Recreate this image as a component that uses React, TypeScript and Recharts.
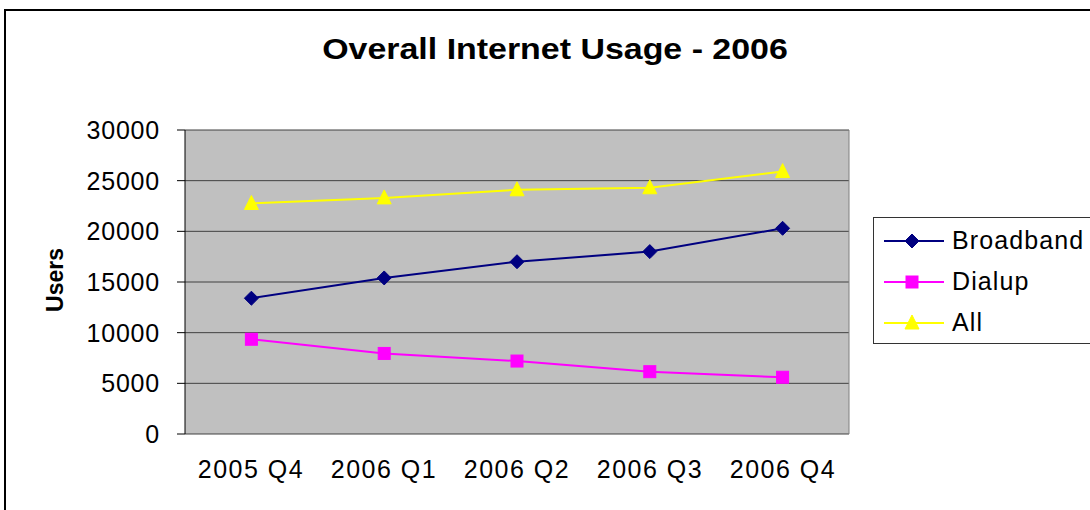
import { LineChart, Line, XAxis, YAxis, CartesianGrid, ReferenceLine } from 'recharts'

const QUARTERS = ['2005 Q4', '2006 Q1', '2006 Q2', '2006 Q3', '2006 Q4']
const BROADBAND = [13400, 15400, 17000, 18000, 20300]
const DIALUP = [9350, 7950, 7200, 6150, 5600]
const ALL = [22750, 23300, 24100, 24300, 25900]
const Y_TICKS = [0, 5000, 10000, 15000, 20000, 25000, 30000]
const X_BOUNDS = [0, 1, 2, 3, 4, 5]

const SERIES = [
  { key: 'Broadband', color: '#000080', shape: 'diamond' },
  { key: 'Dialup', color: '#FF00FF', shape: 'square' },
  { key: 'All', color: '#FFFF00', shape: 'triangle' },
]

const FONT = '"Liberation Sans", Arial, sans-serif'
const STRETCH = 1.17 // the source picture is a bit wider than tall

const data = QUARTERS.map((quarter, i) => ({
  quarter,
  pos: i + 0.5,
  Broadband: BROADBAND[i],
  Dialup: DIALUP[i],
  All: ALL[i],
}))

// marker drawn at (cx, cy)
function Marker({ cx, cy, shape, color }: { cx: number; cy: number; shape: string; color: string }) {
  if (shape === 'diamond') {
    return <polygon points={`${cx - 7},${cy} ${cx},${cy - 7} ${cx + 7},${cy} ${cx},${cy + 7}`} fill={color} stroke={color} />
  }
  if (shape === 'square') {
    return <rect x={cx - 6} y={cy - 6} width={12} height={12} fill={color} stroke={color} />
  }
  return <polygon points={`${cx},${cy - 8} ${cx - 7},${cy + 6} ${cx + 7},${cy + 6}`} fill={color} stroke={color} />
}

function LegendBox() {
  return (
    <svg width={260} height={128} style={{ position: 'absolute', left: 873, top: 217 }}>
      <rect x={0.5} y={0.5} width={259} height={126} fill="#fff" stroke="#333" />
      {SERIES.map((s, i) => {
        const y = 24 + i * 41
        return (
          <g key={s.key}>
            <line x1={11} x2={71} y1={y} y2={y} stroke={s.color} strokeWidth={2} />
            <Marker cx={39} cy={y} shape={s.shape} color={s.color} />
            <text x={79} y={y + 8} fontSize={25} letterSpacing={1.1} fontFamily={FONT} fill="#000">
              {s.key}
            </text>
          </g>
        )
      })}
    </svg>
  )
}

export default function App() {
  return (
    <div style={{ position: 'fixed', left: 0, top: 0, width: 1090, height: 510, overflow: 'hidden', background: '#fff', fontFamily: FONT }}>
      <svg width={1090} height={510} style={{ position: 'absolute', left: 0, top: 0 }}>
        <rect x={5} y={10} width={1200} height={600} fill="none" stroke="#000" strokeWidth={2} />
        <text
          x={555 / STRETCH}
          y={59}
          transform={`scale(${STRETCH} 1)`}
          textAnchor="middle"
          fontSize={29}
          fontWeight="bold"
          fontFamily={FONT}
          fill="#000"
        >
          Overall Internet Usage - 2006
        </text>
      </svg>
      <div style={{ position: 'absolute', left: 0, top: 0 }}>
        <LineChart width={1090} height={510} data={data} margin={{ top: 130, right: 241, bottom: 36, left: 0 }}>
          <CartesianGrid xAxisId="pos" vertical={false} fill="#C0C0C0" stroke="#404040" />
          <XAxis
            xAxisId="pos"
            type="number"
            dataKey="pos"
            domain={[0, 5]}
            ticks={X_BOUNDS}
            tick={false}
            tickSize={8}
            height={0}
            axisLine={{ stroke: '#000' }}
            tickLine={{ stroke: '#000' }}
          />
          <XAxis
            xAxisId="cat"
            dataKey="quarter"
            axisLine={false}
            tickLine={false}
            tickSize={0}
            tickMargin={26}
            height={40}
            interval={0}
            padding={{ left: 66, right: 66 }}
            tick={{ fontSize: 25, fill: '#000', letterSpacing: 1.5, fontFamily: FONT }}
          />
          <YAxis
            width={185}
            domain={[0, 30000]}
            ticks={Y_TICKS}
            interval={0}
            tickSize={8}
            tickMargin={17}
            axisLine={{ stroke: '#000' }}
            tickLine={{ stroke: '#000' }}
            tick={{ fontSize: 25, fill: '#000', letterSpacing: 0.8, fontFamily: FONT }}
            label={{
              value: 'Users',
              content: () => (
                <text x={63} y={280} transform="rotate(-90 63 280)" textAnchor="middle" fontSize={23} fontWeight="bold" fontFamily={FONT} fill="#000">
                  Users
                </text>
              ),
            }}
          />
          <ReferenceLine xAxisId="pos" x={5} stroke="#808080" />
          {SERIES.map((s) => (
            <Line
              key={s.key}
              xAxisId="pos"
              dataKey={s.key}
              stroke={s.color}
              strokeWidth={2}
              isAnimationActive={false}
              dot={(p: any) => <Marker key={`${s.key}-${p.index}`} cx={p.cx} cy={p.cy} shape={s.shape} color={s.color} />}
            />
          ))}
        </LineChart>
      </div>
      <LegendBox />
    </div>
  )
}
